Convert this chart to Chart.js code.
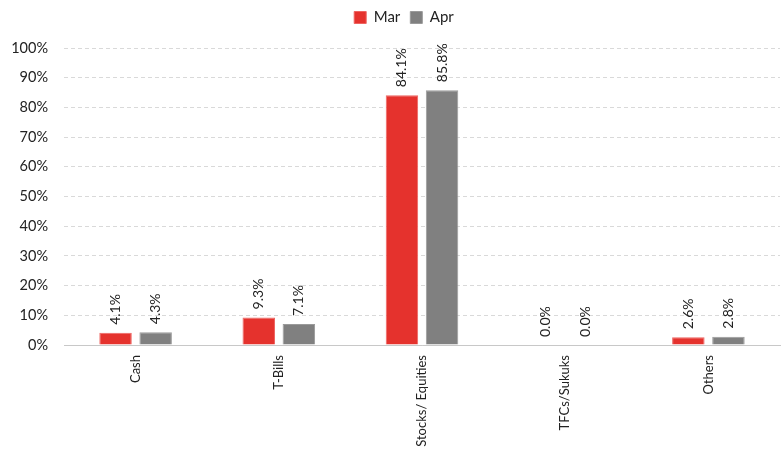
<!DOCTYPE html>
<html>
<head>
<meta charset="utf-8">
<script src="https://cdn.jsdelivr.net/npm/chart.js@4/dist/chart.umd.min.js"></script>
<style>
  html, body { margin: 0; padding: 0; background: #fff; }
  #wrap { width: 783px; height: 450px; }
</style>
</head>
<body>
<div id="wrap"><canvas id="GraficoAtivos"></canvas></div>
<script>
var categorias = ["Cash", "T-Bills", "Stocks/ Equities", "TFCs/Sukuks", "Others"];
var valoresMar = [4.1, 9.3, 84.1, 0.0, 2.6];
var valoresApr = [4.3, 7.1, 85.8, 0.0, 2.8];
var seriesNomes = ["Mar", "Apr"];

var fonte = "Lato, 'Open Sans', sans-serif";

// rotulos verticais acima das barras
var rotulosBarras = {
    id: 'rotulosBarras',
    afterDatasetsDraw: function (chart) {
        var ctx = chart.ctx;
        ctx.save();
        ctx.fillStyle = "#222";
        ctx.font = "14px " + fonte;
        ctx.textAlign = "left";
        ctx.textBaseline = "middle";
        chart.data.datasets.forEach(function (ds, i) {
            chart.getDatasetMeta(i).data.forEach(function (bar, j) {
                ctx.save();
                ctx.translate(bar.x, bar.y - 8);
                ctx.rotate(-Math.PI / 2);
                ctx.fillText(ds.data[j].toFixed(1) + "%", 0, 0);
                ctx.restore();
            });
        });
        ctx.restore();
    }
};

// espaco extra abaixo da legenda e deslocamento para a direita
var espacoLegenda = {
    id: 'espacoLegenda',
    beforeInit: function (chart) {
        var fitOriginal = chart.legend.fit;
        chart.legend.fit = function () {
            fitOriginal.bind(chart.legend)();
            this.height += 13;
        };
    },
    afterLayout: function (chart) {
        chart.legend.left += 14;
        chart.legend.right += 14;
    }
};

new Chart(document.getElementById("GraficoAtivos"), {

    type: 'bar',

    data: {
        labels: categorias,

        datasets: [{
            label: seriesNomes[0],
            data: valoresMar,
            backgroundColor: "#e5322d",
            borderColor: "#ee6461",
            borderWidth: 1,
            categoryPercentage: 0.56,
            barPercentage: 0.81
        }, {
            label: seriesNomes[1],
            data: valoresApr,
            backgroundColor: "#808080",
            borderColor: "#9a9a9a",
            borderWidth: 1,
            categoryPercentage: 0.56,
            barPercentage: 0.81
        }]
    },

    plugins: [rotulosBarras, espacoLegenda],

    options: {
        responsive: true,
        maintainAspectRatio: false,
        animation: false,
        layout: {
            padding: { left: 0, right: 3, top: 0, bottom: 0 }
        },
        plugins: {
            legend: {
                position: 'top',
                labels: {
                    boxWidth: 12,
                    boxHeight: 12,
                    padding: 10,
                    color: "#222",
                    font: { size: 15, family: fonte }
                }
            },
            tooltip: { enabled: false }
        },
        scales: {
            x: {
                grid: { display: false },
                border: { display: true, color: "#c8c8c8", width: 1 },
                afterFit: function (scale) { scale.height = 105; },
                ticks: {
                    minRotation: 90,
                    maxRotation: 90,
                    padding: 2,
                    color: "#222",
                    font: { size: 13, family: fonte }
                }
            },
            y: {
                min: 0,
                max: 100,
                grid: { color: "#d9d9d9", drawTicks: false },
                border: { display: false, dash: [4, 3] },
                afterFit: function (scale) { scale.width = 64; },
                ticks: {
                    stepSize: 10,
                    padding: 16,
                    color: "#222",
                    font: { size: 14.5, family: fonte },
                    callback: function (v) { return v + "%"; }
                }
            }
        }
    }
});
</script>
</body>
</html>
